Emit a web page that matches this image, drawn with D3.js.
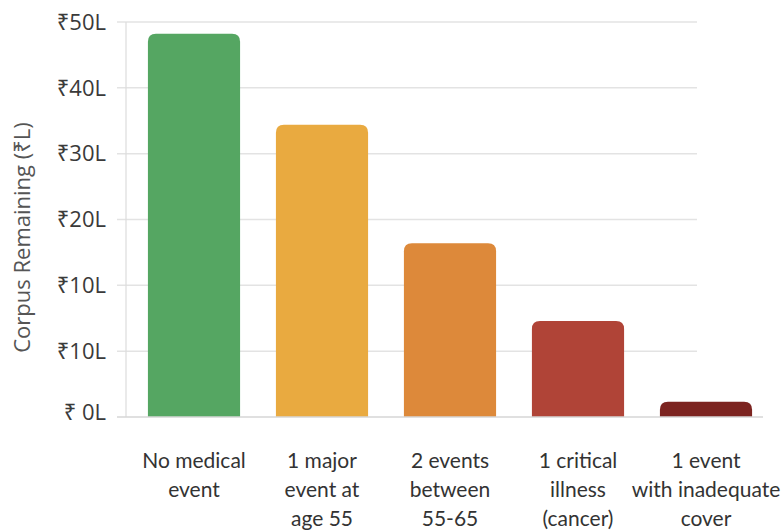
<!DOCTYPE html>
<html>
<head>
<meta charset="utf-8">
<script src="https://cdn.jsdelivr.net/npm/d3@7"></script>
<style>
  html, body { margin: 0; padding: 0; background: #fff; }
  svg { display: block; }
  text { font-family: "Open Sans", "Noto Sans", sans-serif; }
  .cat text { font-family: Lato, "Open Sans", sans-serif; }
</style>
</head>
<body>
<svg id="chart" width="781" height="530"></svg>
<script>
// Scenario categories (multi-line labels)
const categories = [
  ["No medical", "event"],
  ["1 major", "event at", "age 55"],
  ["2 events", "between", "55-65"],
  ["1 critical", "illness", "(cancer)"],
  ["1 event", "with inadequate", "cover"]
];
// Corpus remaining, in axis units
const values = [58.2, 44.4, 26.4, 14.6, 2.3];
const colors = ["#55a662", "#e9aa40", "#dd893a", "#b04437", "#7c2420"];
// Y axis ticks and their printed labels
const tickValues = [0, 10, 20, 30, 40, 50, 60];
const tickLabels = ["₹ 0L", "₹10L", "₹10L", "₹20L", "₹30L", "₹40L", "₹50L"];
const yTitle = "Corpus Remaining (₹L)";

const svg = d3.select("#chart");

const y = d3.scaleLinear().domain([0, 60]).range([417, 22]);
const x = d3.scaleBand()
  .domain(d3.range(categories.length))
  .range([130, 770])
  .paddingInner(0.28)
  .paddingOuter(0.14);

// Gridlines (zero line drawn separately as the baseline)
svg.append("g")
  .selectAll("line")
  .data(tickValues.filter(d => d > 0))
  .join("line")
  .attr("x1", 117).attr("x2", 697)
  .attr("y1", d => y(d)).attr("y2", d => y(d))
  .attr("stroke", "#e3e3e3").attr("stroke-width", 1.5);

// Left axis line
svg.append("line")
  .attr("x1", 126).attr("x2", 126)
  .attr("y1", y(60)).attr("y2", y(0))
  .attr("stroke", "#dcdcdc").attr("stroke-width", 1.2);

// Tick labels
svg.append("g")
  .selectAll("text")
  .data(tickValues)
  .join("text")
  .attr("x", 106)
  .attr("y", d => y(d) - (d === 0 ? 5 : 0))
  .attr("dy", "0.35em")
  .attr("text-anchor", "end")
  .attr("font-size", 22)
  .attr("fill", "#3a3a3a")
  .text((d, i) => tickLabels[i]);

// Bars with rounded top corners
const r = 8;
function barPath(d, i) {
  const x0 = x(i), w = x.bandwidth();
  const top = y(d), bottom = y(0);
  const rr = Math.min(r, (bottom - top));
  return `M${x0},${bottom}V${top + rr}Q${x0},${top} ${x0 + rr},${top}` +
         `H${x0 + w - rr}Q${x0 + w},${top} ${x0 + w},${top + rr}V${bottom}Z`;
}
svg.append("g")
  .selectAll("path")
  .data(values)
  .join("path")
  .attr("d", barPath)
  .attr("fill", (d, i) => colors[i]);

// Baseline
svg.append("line")
  .attr("x1", 117).attr("x2", 763)
  .attr("y1", y(0)).attr("y2", y(0))
  .attr("stroke", "#d6d6d6").attr("stroke-width", 1.5);

// Category labels
const lab = svg.append("g")
  .attr("class", "cat")
  .selectAll("text")
  .data(categories)
  .join("text")
  .attr("x", (d, i) => x(i) + x.bandwidth() / 2)
  .attr("y", 468)
  .attr("text-anchor", "middle")
  .attr("font-size", 21)
  .attr("fill", "#333");
lab.selectAll("tspan")
  .data(d => d)
  .join("tspan")
  .attr("x", function () { return this.parentNode.getAttribute("x"); })
  .attr("dy", (d, j) => j === 0 ? 0 : 29)
  .text(d => d);

// Y axis title
svg.append("text")
  .attr("transform", `translate(30,${(y(0) + y(60)) / 2 + 18}) rotate(-90)`)
  .attr("text-anchor", "middle")
  .attr("font-size", 22)
  .attr("fill", "#555")
  .text(yTitle);
</script>
</body>
</html>
